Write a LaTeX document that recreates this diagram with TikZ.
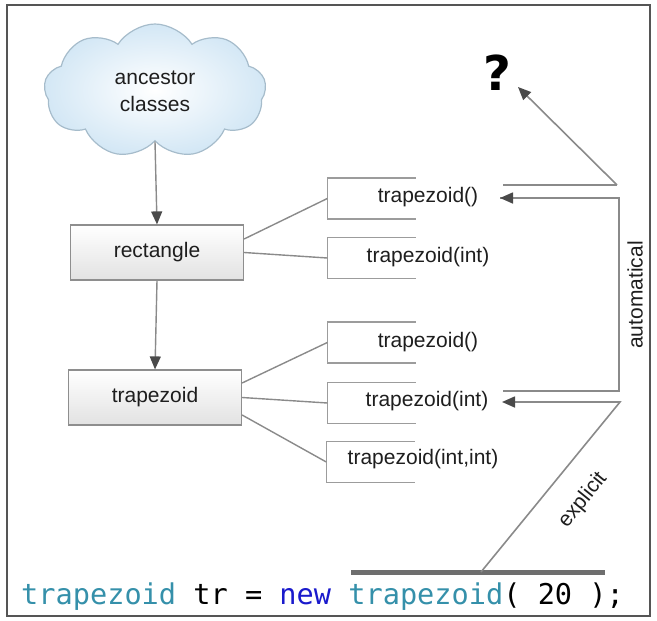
\documentclass[tikz,border=0pt]{standalone}
\usepackage{fontspec}
\setmainfont{Liberation Sans}
\setmonofont{DejaVu Sans Mono}
\newfontfamily\heavyfont{DejaVu Sans}
\usetikzlibrary{shapes.symbols,arrows.meta}
\definecolor{framecol}{HTML}{555555}
\definecolor{linecol}{HTML}{8A8A8A}
\definecolor{tipcol}{HTML}{4A4A4A}
\definecolor{boxborder}{HTML}{8E8E8E}
\definecolor{boxbot}{HTML}{E2E2E2}
\definecolor{cloudfill}{HTML}{D3E7F5}
\definecolor{cloudedge}{HTML}{A6BCCB}
\definecolor{txt}{HTML}{1E1E1E}
\definecolor{codeteal}{HTML}{3590AA}
\definecolor{codeblue}{HTML}{1A1ACC}
\definecolor{barcol}{HTML}{6E6E6E}
\tikzset{
  lbl/.style={font=\fontsize{21}{25}\selectfont, text=txt, inner sep=0pt},
  classbox/.style={draw=boxborder, line width=1.2pt, top color=white, bottom color=boxbot,
    minimum width=173pt, minimum height=55pt, inner sep=0pt, font=\fontsize{21}{25}\selectfont, text=txt},
  bracket/.style={minimum width=88pt, minimum height=41pt, inner sep=0pt},
  brk/.style={draw=linecol!85, line width=1.5pt},
  conn/.style={draw=linecol, line width=1.4pt},
  arr/.style={draw=linecol, line width=1.6pt, -{Triangle[length=13pt,width=11pt,color=tipcol]}},
}
\begin{document}
\begin{tikzpicture}[x=1pt,y=-1pt]
\useasboundingbox (0,0) rectangle (657,621);
\draw[framecol, line width=1.6pt] (7,5) rectangle (650,616);

% cloud
\node[cloud, cloud puffs=9, cloud puff arc=115, aspect=1.65, minimum width=222pt, minimum height=134pt,
  draw=cloudedge, line width=1.2pt, inner color=white, outer color=cloudfill, inner sep=0pt,
  align=center, lbl] (cloud) at (155,91) {ancestor\\[2pt]classes};

% class boxes
\node[classbox] (rect) at (157,252.5) {rectangle};
\node[classbox] (trap) at (155,397.5) {trapezoid};

\draw[arr, line width=1.4pt] (cloud.south) -- (rect.north);
\draw[arr, line width=1.4pt] (rect.south) -- (trap.north);

% constructor brackets
\node[bracket] (m1) at (371.5,198.5) {};
\node[bracket] (m2) at (371.5,258) {};
\node[bracket] (m3) at (371.5,342.5) {};
\node[bracket] (m4) at (371.5,403) {};
\node[bracket] (m5) at (370.5,462) {};
\foreach \m in {m1,m2,m3,m4,m5}{
  \draw[brk] (\m.north east) -- (\m.north west) -- (\m.south west) -- (\m.south east);
}
\node[lbl] (t1) at (428,197) {trapezoid()};
\node[lbl] (t2) at (428,257) {trapezoid(int)};
\node[lbl] (t3) at (428,342) {trapezoid()};
\node[lbl] (t4) at (427,401) {trapezoid(int)};
\node[lbl] (t5) at (423,459) {trapezoid(int,int)};

% links from classes to constructors
\draw[conn] ([yshift=13.5pt]rect.east) -- (m1.west);
\draw[conn] (rect.east) -- (m2.west);
\draw[conn] ([yshift=14.5pt]trap.east) -- (m3.west);
\draw[conn] (trap.east) -- (m4.west);
\draw[conn] ([yshift=-17.5pt]trap.east) -- (m5.west);

% right side paths
\coordinate (a1) at (500,198);
\coordinate (a2) at (619,198);
\coordinate (a3) at (619,391);
\coordinate (a4) at (503,391);
\coordinate (q1) at (503,185);
\coordinate (q2) at (617,185);
\coordinate (e1) at (502,402);
\coordinate (e2) at (620,402);

\node[font=\fontsize{48}{48}\heavyfont\bfseries\selectfont, text=black, inner sep=0pt] (qm) at (497,73) {?};
\coordinate (q3) at (518,87);

\draw[conn, line width=1.6pt] (a4) -- (a3) -- (a2) -- (a1);
\draw[arr] (a2) -- (a1);
\draw[conn, line width=1.6pt] (q1) -- (q2);
\draw[arr] (q2) -- (q3);

% code line
\node[anchor=west, inner sep=0pt, font=\fontsize{28.6}{30}\ttfamily\selectfont] (code) at (21,597)
  {\textcolor{codeteal}{trapezoid} \textcolor{black}{tr} \textcolor{black}{=} \textcolor{codeblue}{new} \textcolor{codeteal}{trapezoid}\textcolor{black}{( 20 );}};
\coordinate (b1) at (351,572);
\coordinate (b2) at (605,572);
\coordinate (b3) at (481,572);
\draw[barcol, line width=5pt] (b1) -- (b2);
\draw[arr] (b3) -- (e2) -- (e1);

\node[lbl, rotate=90] (auto) at (635,295) {automatical};
\node[lbl, rotate=51] (expl) at (583,500) {explicit};
\end{tikzpicture}
\end{document}
